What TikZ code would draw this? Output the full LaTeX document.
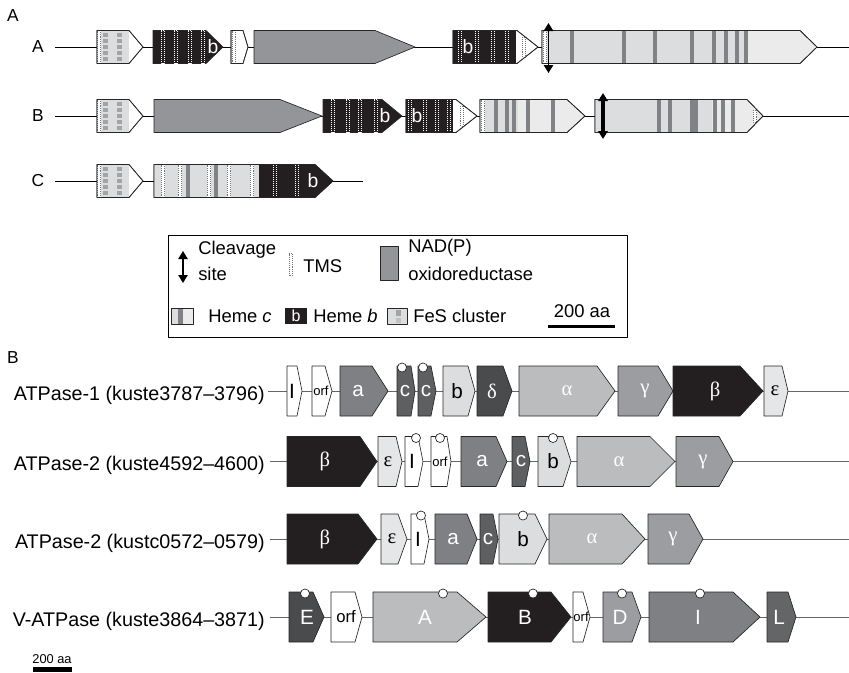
\documentclass[tikz,border=0pt]{standalone}
\usepackage{fontspec}
\setmainfont{Liberation Sans}
\newfontfamily\grk{Liberation Serif}
\usetikzlibrary{arrows.meta}
\definecolor{cHb}{HTML}{231F20}
\definecolor{cNad}{HTML}{949598}
\definecolor{cLt}{HTML}{DCDDDF}
\definecolor{cLL}{HTML}{EBEBEC}
\definecolor{cHc}{HTML}{808285}
\definecolor{cS}{HTML}{A3A4A6}
\definecolor{cA}{HTML}{7F8083}
\definecolor{cC}{HTML}{5E5F61}
\definecolor{cBb}{HTML}{DCDDDF}
\definecolor{cD}{HTML}{4A4B4D}
\definecolor{cAl}{HTML}{BBBCBE}
\definecolor{cG}{HTML}{9C9DA0}
\definecolor{cE}{HTML}{E5E6E7}
\definecolor{cL}{HTML}{646567}
\begin{document}
\begin{tikzpicture}[x=0.75pt,y=-0.75pt,line join=round]
	\tikzset{gene/.style={draw=black!85,line width=0.5pt},
		bb/.style={line width=0.6pt},
		bbg/.style={line width=0.7pt,draw=black!60},
		tmsw/.style={draw=white,dash pattern=on 0.9pt off 0.6pt,line width=0.9pt},
		tmsd/.style={draw=black!55,fill=white,densely dotted,line width=0.45pt},
		cleave/.style={{Triangle[length=6pt,width=7pt]}-{Triangle[length=6pt,width=7pt]},line width=1.4pt},
		secl/.style={font=\fontsize{13}{15}\selectfont,inner sep=0},
		opl/.style={font=\fontsize{14.8}{17}\selectfont,inner sep=0,anchor=base east},
		hb/.style={font=\fontsize{14.5}{16}\selectfont,text=white,inner sep=0},
		leg/.style={font=\fontsize{13.8}{16}\selectfont,inner sep=0,anchor=base west},
		lw/.style={font=\fontsize{15.5}{17}\selectfont,text=white,inner sep=0},
		lk/.style={font=\fontsize{15.5}{17}\selectfont,inner sep=0},
		gw/.style={font=\grk\fontsize{15.5}{17}\selectfont,text=white,inner sep=0},
		gk/.style={font=\grk\fontsize{15.5}{17}\selectfont,inner sep=0},
		lo/.style={font=\fontsize{9.8}{11}\selectfont,inner sep=0},
		lob/.style={font=\fontsize{12.5}{14}\selectfont,inner sep=0},
		knob/.style={circle,draw=black!85,fill=white,line width=0.5pt,minimum size=6.8pt,inner sep=0}}
	\useasboundingbox (0,0) rectangle (849,672);
	\def\gp#1#2#3#4#5{(#1,#4-#5) -- (#2,#4-#5) -- (#3,#4) -- (#2,#4+#5) -- (#1,#4+#5) -- cycle}
	\def\tms#1#2#3#4{\draw[#1] (#2-1.7,#3-#4) rectangle (#2+1.7,#3+#4);}
	\def\hc#1#2{\fill[cHc] (#1-2,#2-16.5) rectangle (#1+2,#2+16.5);}
	\def\fes#1{%
		\draw[gene,fill=white] \gp{97}{129}{143}{#1}{16.5};
		\fill[cLt] (101,#1-16.5) rectangle (129,#1+16.5);
		\foreach \k in {0,...,4}{
			\fill[cS] (103,#1-14.5+6*\k) rectangle (107.5,#1-10+6*\k);
			\fill[cS] (117,#1-14.5+6*\k) rectangle (121.5,#1-10+6*\k);}
		\tms{tmsd}{99}{#1}{16.5}
		\draw[gene] \gp{97}{129}{143}{#1}{16.5};}
	\def\gene#1#2#3#4#5#6#7#8#9{%
		\draw[gene,fill=#5] \gp{#1}{#2}{#3}{#4}{25};
		\node[#7] (#6) at (#8,#4) {#9};}
	\def\knob#1#2#3{\node[knob] (#1) at (#2,#3-23.5) {};}
	% part A
	\node[secl] (secA) at (13,16) {A};
	\node[secl] (secB) at (13,358) {B};
	% row A
	\node[secl] (rA) at (38,47) {A};
	\coordinate (rAs) at (55,47);
	\coordinate (rAe) at (849,47);
	\draw[bb] (rAs) -- (rAe);
	\fes{47}
	\draw[gene,fill=cHb] \gp{153}{206}{223}{47}{16.5};
	\foreach \t in {163,176,190,203}{\tms{tmsw}{\t}{47}{16.5}}
	\node[hb] (rAb1) at (213,47) {b};
	\draw[gene,fill=white] \gp{231}{243}{248}{47}{16.5};
	\tms{tmsd}{234}{47}{16.5}
	\draw[gene] \gp{231}{243}{248}{47}{16.5};
	\draw[gene,fill=cNad] \gp{254}{375}{415}{47}{16.5};
	\draw[gene,fill=white] \gp{453}{517}{538}{47}{16.5};
	\fill[cHb] (453,30.5) rectangle (516,63.5);
	\foreach \t in {460,477,493,507}{\tms{tmsw}{\t}{47}{16.5}}
	\tms{tmsd}{524}{47}{10}
	\draw[gene] \gp{453}{517}{538}{47}{16.5};
	\node[hb] (rAb2) at (468,47) {b};
	\draw[gene,fill=cLL] \gp{542}{800}{817}{47}{16.5};
	\fill[cLt] (542,30.5) rectangle (748,63.5);
	\foreach \t in {572,624,655,692,714,726,737,746}{\hc{\t}{47}}
	\tms{tmsd}{545}{47}{16.5}
	\draw[gene] \gp{542}{800}{817}{47}{16.5};
	\coordinate (cvA1) at (548.5,23);
	\coordinate (cvA2) at (548.5,73);
	\draw[cleave] (cvA1) -- (cvA2);
	% row B
	\node[secl] (rB) at (38,116) {B};
	\coordinate (rBs) at (55,116);
	\coordinate (rBe) at (849,116);
	\draw[bb] (rBs) -- (rBe);
	\fes{116}
	\draw[gene,fill=cNad] \gp{154}{280}{322}{116}{16.5};
	\draw[gene,fill=cHb] \gp{323}{382}{402}{116}{16.5};
	\foreach \t in {333,348,360,376}{\tms{tmsw}{\t}{116}{16.5}}
	\node[hb] (rBb1) at (385,116) {b};
	\draw[gene,fill=white] \gp{406}{456}{477}{116}{16.5};
	\fill[cHb] (406,99.5) rectangle (453,132.5);
	\foreach \t in {410,425,437,449}{\tms{tmsw}{\t}{116}{16.5}}
	\tms{tmsd}{462}{116}{10}
	\draw[gene] \gp{406}{456}{477}{116}{16.5};
	\node[hb] (rBb2) at (417,116) {b};
	\draw[gene,fill=cLL] \gp{480}{567}{585}{116}{16.5};
	\fill[cLt] (480,99.5) rectangle (518,132.5);
	\foreach \t in {496,507,514,528,553}{\hc{\t}{116}}
	\tms{tmsd}{483}{116}{16.5}
	\draw[gene] \gp{480}{567}{585}{116}{16.5};
	\draw[gene,fill=cLL] \gp{595}{747}{763}{116}{16.5};
	\fill[cLt] (595,99.5) rectangle (712,132.5);
	\foreach \t in {659,670,692,696,715,723,733}{\hc{\t}{116}}
	\tms{tmsd}{755}{116}{6}
	\draw[gene] \gp{595}{747}{763}{116}{16.5};
	\coordinate (cvB1) at (603,93);
	\coordinate (cvB2) at (603,139);
	\draw[cleave,line width=3pt] (cvB1) -- (cvB2);
	% row C
	\node[secl] (rC) at (38,181) {C};
	\coordinate (rCs) at (55,181);
	\coordinate (rCe) at (363,181);
	\draw[bb] (rCs) -- (rCe);
	\fes{181}
	\draw[gene,fill=cHb] \gp{154}{315}{333}{181}{16.5};
	\fill[cLt] (154,164.5) rectangle (259,197.5);
	\foreach \t in {188,216}{\hc{\t}{181}}
	\foreach \t in {163,180,209,229,252}{\tms{tmsd}{\t}{181}{16.5}}
	\foreach \t in {275,297}{\tms{tmsw}{\t}{181}{16.5}}
	\draw[gene] \gp{154}{315}{333}{181}{16.5};
	\node[hb] (rCb) at (313,181) {b};
	% legend
	\draw[line width=0.6pt] (168,235) rectangle (627,337);
	\coordinate (cvL1) at (183,251);
	\coordinate (cvL2) at (183,283);
	\draw[cleave,line width=1.1pt] (cvL1) -- (cvL2);
	\node[leg] (tCl) at (198,254) {Cleavage};
	\node[leg] (tSi) at (198,280) {site};
	\tms{tmsd}{290.5}{264.5}{11}
	\node[leg] (tTm) at (303,272) {TMS};
	\draw[gene,fill=cNad] (380,246) rectangle (398,280);
	\node[leg] (tNa) at (408,252) {NAD(P)};
	\node[leg] (tOx) at (408,280) {oxidoreductase};
	\fill[cLL] (171,308) rectangle (193,324);
	\fill[cLt] (171,308) rectangle (179,324);
	\fill[cHc] (178,308) rectangle (183,324);
	\draw[gene] (171,308) rectangle (193,324);
	\node[leg] (tHc) at (208,322) {Heme \textit{c}};
	\fill[cHb] (285,308) rectangle (307,324);
	\node[hb,font=\fontsize{12}{14}\selectfont] (ib) at (296,316) {b};
	\node[leg] (tHb) at (313,322) {Heme \textit{b}};
	\fill[cLt] (387,308) rectangle (407,324);
	\fill[cS] (396,309.5) rectangle (401,315.5);
	\fill[cS!50!cLt] (396,317.5) rectangle (401,322.5);
	\draw[gene] (387,308) rectangle (407,324);
	\node[leg] (tFe) at (413,322) {FeS cluster};
	\node[leg,anchor=base] (tSc) at (582,317) {200 aa};
	\coordinate (scL1) at (548,326.5);
	\coordinate (scL2) at (615,326.5);
	\draw[line width=2.4pt] (scL1) -- (scL2);
	% part B
	% ATPase-1
	\node[opl] (op1) at (265,400) {ATPase-1 (kuste3787–3796)};
	\coordinate (l1s) at (268,391);
	\coordinate (l1e) at (849,391);
	\draw[bbg] (l1s) -- (l1e);
	\gene{287}{297}{302}{391}{white}{g1i}{lk}{292}{I}
	\gene{312}{325}{332}{391}{white}{g1o}{lo}{321}{orf}
	\gene{340}{372}{388}{391}{cA}{g1a}{lw}{358}{a}
	\gene{397}{411}{415}{391}{cC}{g1c1}{lw}{405}{c}
	\gene{418}{431}{436}{391}{cC}{g1c2}{lw}{426}{c}
	\gene{443}{468}{475}{391}{cBb}{g1b}{lk}{457}{b}
	\gene{477}{503}{512}{391}{cD}{g1d}{gw}{492}{δ}
	\gene{519}{597}{615}{391}{cAl}{g1al}{gw}{567}{α}
	\gene{618}{658}{673}{391}{cG}{g1g}{gw}{645}{γ}
	\gene{673}{740}{763}{391}{cHb}{g1be}{gw}{715}{β}
	\gene{764}{782}{788}{391}{cE}{g1e}{gk}{775}{ε}
	\knob{k1a}{402}{391}
	\knob{k1b}{423}{391}
	% ATPase-2, kuste
	\node[opl] (op2) at (265,470.5) {ATPase-2 (kuste4592–4600)};
	\coordinate (l2s) at (270,461.5);
	\coordinate (l2e) at (849,461.5);
	\draw[bbg] (l2s) -- (l2e);
	\gene{287}{360}{377}{461.5}{cHb}{g2be}{gw}{325}{β}
	\gene{378}{396}{402}{461.5}{cE}{g2e}{gk}{388}{ε}
	\gene{405}{418}{423}{461.5}{white}{g2i}{lk}{412}{I}
	\gene{431}{447}{451}{461.5}{white}{g2o}{lo}{440}{orf}
	\gene{461}{496}{507}{461.5}{cA}{g2a}{lw}{482}{a}
	\gene{512}{525}{530}{461.5}{cC}{g2c}{lw}{521}{c}
	\gene{538}{563}{571}{461.5}{cBb}{g2b}{lk}{553}{b}
	\gene{577}{650}{675}{461.5}{cAl}{g2al}{gw}{619}{α}
	\gene{676}{719}{733}{461.5}{cG}{g2g}{gw}{703}{γ}
	\knob{k2a}{416}{461.5}
	\knob{k2b}{440}{461.5}
	\knob{k2c}{553}{461.5}
	% ATPase-2, kustc
	\node[opl] (op3) at (265,548) {ATPase-2 (kustc0572–0579)};
	\coordinate (l3s) at (270,539);
	\coordinate (l3e) at (849,539);
	\draw[bbg] (l3s) -- (l3e);
	\gene{287}{358}{377}{539}{cHb}{g3be}{gw}{325}{β}
	\gene{381}{398}{407}{539}{cE}{g3e}{gk}{392}{ε}
	\gene{411}{424}{429}{539}{white}{g3i}{lk}{418}{I}
	\gene{435}{467}{477}{539}{cA}{g3a}{lw}{453}{a}
	\gene{480}{493}{498}{539}{cC}{g3c}{lw}{488}{c}
	\gene{499}{535}{547}{539}{cBb}{g3b}{lk}{523}{b}
	\gene{549}{622}{645}{539}{cAl}{g3al}{gw}{592}{α}
	\gene{648}{689}{703}{539}{cG}{g3g}{gw}{673}{γ}
	\knob{k3a}{421}{539}
	\knob{k3b}{523}{539}
	% V-ATPase
	\node[opl] (op4) at (265,626) {V-ATPase (kuste3864–3871)};
	\coordinate (l4s) at (270,617);
	\coordinate (l4e) at (849,617);
	\draw[bbg] (l4s) -- (l4e);
	\gene{289}{313}{324}{617}{cD}{g4e}{lw}{307}{E}
	\gene{331}{355}{362}{617}{white}{g4o1}{lob}{346}{orf}
	\gene{373}{457}{486}{617}{cAl}{g4a}{lw}{425}{A}
	\gene{488}{551}{571}{617}{cHb}{g4b}{lw}{525}{B}
	\gene{573}{583}{590}{617}{white}{g4o2}{lo}{581}{orf}
	\gene{603}{632}{641}{617}{cG}{g4d}{lw}{620}{D}
	\gene{649}{733}{760}{617}{cA}{g4i}{lw}{698}{I}
	\gene{767}{788}{796}{617}{cL}{g4l}{lw}{779}{L}
	\knob{k4a}{305}{617}
	\knob{k4b}{443}{617}
	\knob{k4c}{533}{617}
	\knob{k4d}{622}{617}
	\knob{k4e}{700}{617}
	% scale
	\node[font=\fontsize{9.6}{11}\selectfont,inner sep=0,anchor=base] (sc) at (52,663) {200 aa};
	\coordinate (sc1) at (33,669.5);
	\coordinate (sc2) at (72,669.5);
	\draw[line width=3.5pt] (sc1) -- (sc2);
\end{tikzpicture}
\end{document}
